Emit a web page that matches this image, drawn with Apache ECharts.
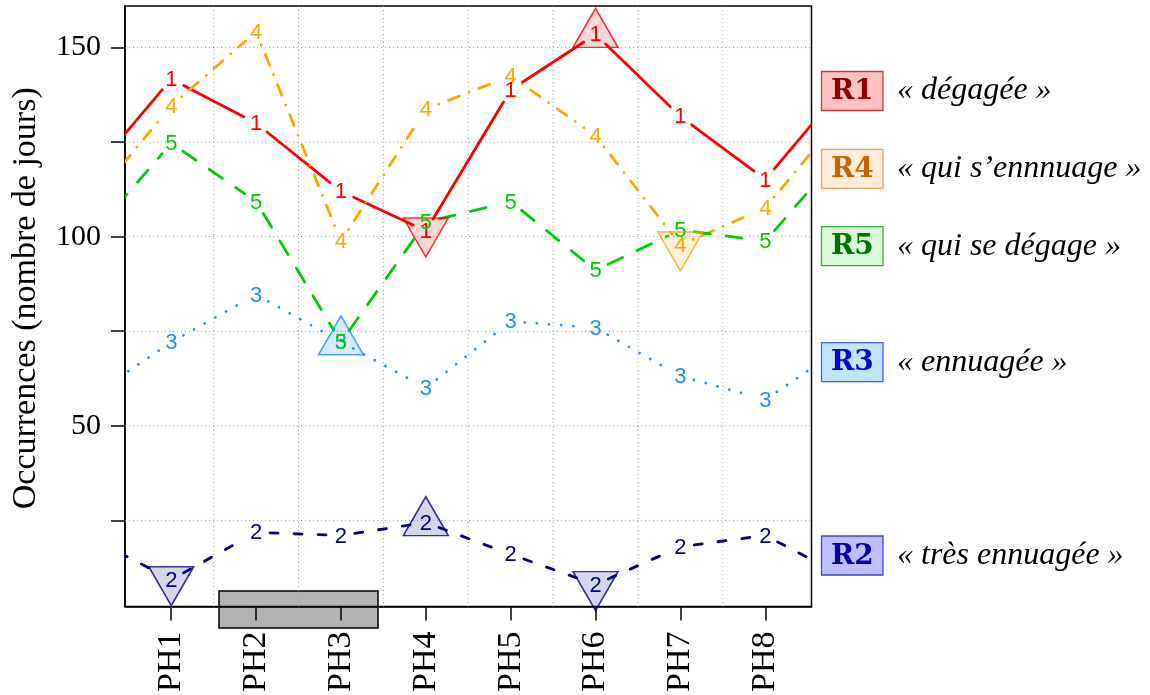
<!DOCTYPE html>
<html>
<head>
<meta charset="utf-8">
<title>Occurrences par phase</title>
<script src="https://cdn.jsdelivr.net/npm/echarts/dist/echarts.min.js"></script>
<style>
  html, body { margin: 0; padding: 0; background: #fff; }
  #chart { width: 1150px; height: 695px; }
</style>
</head>
<body>
<div id="chart"></div>
<script>
// Phases on the x axis
const categories = ['PH1', 'PH2', 'PH3', 'PH4', 'PH5', 'PH6', 'PH7', 'PH8'];

// Occurrences (days) per regime and phase
const r1 = [141.7, 130.0, 112.0, 101.5, 138.8, 153.5, 131.8, 115.1];
const r2 = [9.3, 21.8, 21.0, 24.4, 16.0, 8.0, 18.0, 21.0];
const r3 = [72.1, 84.7, 72.2, 60.0, 77.6, 75.9, 63.1, 56.9];
const r4 = [134.6, 154.2, 98.8, 133.7, 142.5, 126.7, 97.8, 107.6];
const r5 = [124.7, 109.3, 72.1, 103.8, 109.3, 91.1, 101.8, 98.8];

// Highlighted phases (1-based): peaks get an upward triangle, troughs a downward one
const r1Peaks = [6], r1Troughs = [4];
const r2Peaks = [4], r2Troughs = [1, 6];
const r3Peaks = [3], r3Troughs = [];
const r4Peaks = [], r4Troughs = [7];
const r5Peaks = [], r5Troughs = [];

// Axis ticks and grid
const yTicks = [25, 50, 75, 100, 125, 150];
const yLabels = [50, 100, 150];
const xTicks = [1, 2, 3, 4, 5, 6, 7, 8];
const gridX = [1.5, 2.5, 3.5, 4.5, 5.5, 6.5, 7.5];

// Regime legend texts
const regimeCodes = ['R1', 'R4', 'R5', 'R3', 'R2'];
const regimeNames = ['« dégagée »', '« qui s’ennnuage »', '« qui se dégage »', '« ennuagée »', '« très ennuagée »'];

const SERIF = 'Liberation Serif';
const LW = 2.8;
const GAP = 14;
const regimes = [
  { code: '1', values: r1, peaks: r1Peaks, troughs: r1Troughs, color: '#ff0000', fill: 'rgba(255,0,0,0.2)', dash: null, cap: 'round' },
  { code: '2', values: r2, peaks: r2Peaks, troughs: r2Troughs, color: '#000080', fill: 'rgba(0,0,128,0.2)', dash: [8, 16], cap: 'round' },
  { code: '3', values: r3, peaks: r3Peaks, troughs: r3Troughs, color: '#1e90ff', fill: 'rgba(30,144,255,0.22)', dash: [0.01, 12.2], cap: 'round' },
  { code: '4', values: r4, peaks: r4Peaks, troughs: r4Troughs, color: '#ffa500', fill: 'rgba(255,165,0,0.2)', dash: [0.01, 10.5, 11.5, 10.5], cap: 'round' },
  { code: '5', values: r5, peaks: r5Peaks, troughs: r5Troughs, color: '#00cd00', fill: 'rgba(0,205,0,0.2)', dash: [16, 16], cap: 'round' }
];

// Cyclic series: PH8 is repeated before PH1 and PH1 after PH8
function segments(vals) {
  const n = vals.length;
  const pts = [[0, vals[n - 1]]];
  vals.forEach((v, i) => pts.push([i + 1, v]));
  pts.push([n + 1, vals[0]]);
  const out = [];
  for (let i = 0; i < pts.length - 1; i++) out.push([pts[i][0], pts[i][1], pts[i + 1][0], pts[i + 1][1]]);
  return out;
}

function clipRect(params) {
  const cs = params.coordSys;
  return { type: 'rect', shape: { x: cs.x, y: cs.y, width: cs.width, height: cs.height } };
}

function lineRenderer(reg) {
  return function (params, api) {
    const a = api.coord([api.value(0), api.value(1)]);
    const b = api.coord([api.value(2), api.value(3)]);
    const dx = b[0] - a[0], dy = b[1] - a[1];
    const L = Math.hypot(dx, dy);
    if (L <= 2 * GAP) return null;
    const ux = dx / L, uy = dy / L;
    return {
      type: 'group',
      clipPath: clipRect(params),
      children: [{
        type: 'line',
        shape: { x1: a[0] + ux * GAP, y1: a[1] + uy * GAP, x2: b[0] - ux * GAP, y2: b[1] - uy * GAP },
        style: { stroke: reg.color, lineWidth: LW, lineDash: reg.dash, lineCap: reg.cap, fill: null }
      }]
    };
  };
}

function labelRenderer(reg) {
  return function (params, api) {
    const p = api.coord([api.value(0), api.value(1)]);
    return {
      type: 'text', x: p[0], y: p[1] + 1,
      style: { text: reg.code, fill: reg.color, font: '22px Liberation Sans, Arial, sans-serif', align: 'center', verticalAlign: 'middle' }
    };
  };
}

const series = [];

// dotted grid
series.push({
  type: 'custom', silent: true, z: 1,
  data: gridX.map(v => [v, yTicks[0]]),
  encode: { x: 0, y: 1 },
  renderItem: function (params, api) {
    const cs = params.coordSys;
    const x = api.coord([api.value(0), yTicks[0]])[0];
    return { type: 'line', shape: { x1: x, y1: cs.y, x2: x, y2: cs.y + cs.height },
      style: { stroke: '#9a9a9a', lineWidth: 1, lineDash: [1, 3] } };
  }
});
series.push({
  type: 'custom', silent: true, z: 1,
  data: yTicks.map(v => [xTicks[0], v]),
  encode: { x: 0, y: 1 },
  renderItem: function (params, api) {
    const cs = params.coordSys;
    const y = api.coord([xTicks[0], api.value(1)])[1];
    return { type: 'line', shape: { x1: cs.x, y1: y, x2: cs.x + cs.width, y2: y },
      style: { stroke: '#9a9a9a', lineWidth: 1, lineDash: [1, 3] } };
  }
});

// lines with gaps around the point labels
regimes.forEach(reg => {
  series.push({
    type: 'custom', silent: true, z: 3,
    data: segments(reg.values),
    encode: { x: [0, 2], y: [1, 3] },
    renderItem: lineRenderer(reg)
  });
});

// triangles on highlighted phases
const TRI_W = 45, TRI_H = 39;
regimes.forEach(reg => {
  const style = { color: reg.fill, borderColor: reg.color, borderWidth: 1.5 };
  if (reg.peaks.length) series.push({
    type: 'scatter', silent: true, z: 4, symbol: 'triangle', symbolSize: [TRI_W, TRI_H],
    symbolOffset: [0, -TRI_H / 6], itemStyle: style,
    data: reg.peaks.map(i => [i, reg.values[i - 1]])
  });
  if (reg.troughs.length) series.push({
    type: 'scatter', silent: true, z: 4, symbol: 'triangle', symbolSize: [TRI_W, TRI_H],
    symbolRotate: 180, symbolOffset: [0, TRI_H / 6], itemStyle: style,
    data: reg.troughs.map(i => [i, reg.values[i - 1]])
  });
});

// point labels
regimes.forEach(reg => {
  series.push({
    type: 'custom', silent: true, z: 5,
    data: reg.values.map((v, i) => [i + 1, v]),
    encode: { x: 0, y: 1 },
    renderItem: labelRenderer(reg)
  });
});

// regime legend boxes
const legendStyle = [
  { fill: '#ffc1c1', stroke: '#c43c3c', text: '#8b0000', y: 71.5 },
  { fill: '#ffecd9', stroke: '#eea060', text: '#c86400', y: 149.3 },
  { fill: '#d9f9d9', stroke: '#33b033', text: '#007000', y: 226.7 },
  { fill: '#bfe6fb', stroke: '#3f5cff', text: '#0000d8', y: 342.7 },
  { fill: '#bfbfff', stroke: '#4646d6', text: '#0000a8', y: 536 }
];
const graphics = [{
  type: 'rect', z: -1, silent: true,
  shape: { x: 219, y: 591, width: 159, height: 37 },
  style: { fill: '#b3b3b3', stroke: '#000', lineWidth: 1.5 }
}];
regimeCodes.forEach((code, i) => {
  const s = legendStyle[i];
  graphics.push({ type: 'rect', shape: { x: 821.5, y: s.y, width: 61.5, height: 39 },
    style: { fill: s.fill, stroke: s.stroke, lineWidth: 1.3 } });
  graphics.push({ type: 'text', x: 852.3, y: s.y + 20.5,
    style: { text: code, font: 'bold 28px DejaVu Serif, serif', fill: s.text, align: 'center', verticalAlign: 'middle' } });
  graphics.push({ type: 'text', x: 897, y: s.y + 19.5,
    style: { text: regimeNames[i], font: 'italic 32px Liberation Serif, serif', fill: '#000', align: 'left', verticalAlign: 'middle' } });
});

const chart = echarts.init(document.getElementById('chart'), null, { renderer: 'canvas' });
chart.setOption({
  animation: false,
  backgroundColor: '#ffffff',
  textStyle: { fontFamily: SERIF },
  grid: { left: 125, right: 338.5, top: 6, bottom: 88, show: true, borderColor: '#000', borderWidth: 1.5, backgroundColor: 'transparent' },
  xAxis: {
    type: 'value', min: 0.455, max: 8.545,
    axisLine: { show: true, onZero: false, lineStyle: { color: '#000', width: 1.5 } },
    axisTick: { show: true, length: 14, customValues: xTicks, lineStyle: { color: '#000', width: 1.5 } },
    axisLabel: { customValues: xTicks, formatter: v => categories[Math.round(v) - 1], rotate: 90, margin: 25,
      color: '#000', fontFamily: SERIF, fontSize: 34 },
    splitLine: { show: false }
  },
  yAxis: {
    type: 'value', min: 2.2, max: 161,
    name: 'Occurrences (nombre de jours)', nameLocation: 'middle', nameRotate: 90, nameGap: 82,
    nameTextStyle: { color: '#000', fontFamily: SERIF, fontSize: 34, padding: [0, 0, 0, 16] },
    axisLine: { show: true, onZero: false, lineStyle: { color: '#000', width: 1.5 } },
    axisTick: { show: true, length: 14, customValues: yTicks, lineStyle: { color: '#000', width: 1.5 } },
    axisLabel: { customValues: yLabels, margin: 24, color: '#000', fontFamily: SERIF, fontSize: 30 },
    splitLine: { show: false }
  },
  graphic: { elements: graphics },
  series: series
});
</script>
</body>
</html>
